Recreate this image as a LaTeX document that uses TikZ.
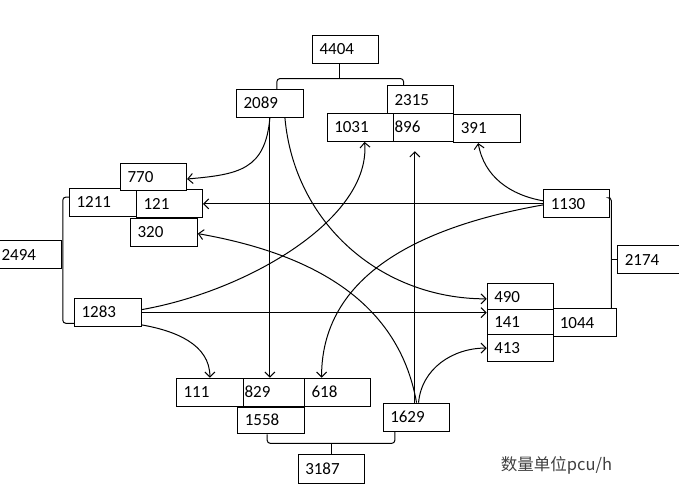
\documentclass[tikz,border=0pt]{standalone}
\usepackage{fontspec}
\usepackage{tikz}
\usetikzlibrary{
    arrows.meta,
    positioning,
    calc
}
\setmainfont{Carlito}
\newfontfamily\cjkfont{Noto Sans CJK SC}
\definecolor{noteGray}{RGB}{64,64,64}

\tikzset{
    cell/.style={
        draw,
        fill=white,
        line width=1.1pt,
        anchor=north west,
        inner xsep=7pt,
        inner ysep=0pt,
        text width=52pt,
        text height=10.7pt,
        text depth=0pt,
        minimum height=27.5pt,
        align=left,
        font=\fontsize{17}{20}\selectfont
    },
    flow/.style={
        ->,
        line width=1pt
    },
    bracket/.style={
        line width=1pt,
        rounded corners=3pt
    }
}

\begin{document}
\begin{tikzpicture}[
    x=1pt,
    y=1pt,
    >={Straight Barb[length=5pt,width=10pt]}
]

\useasboundingbox (0,0) rectangle (679,-499);

% =============================================================
% Boxes: top group
% =============================================================

\node[cell] (b4404) at (312,-35) {4404};
\node[cell, text width=52.7pt] (b2089) at (236,-89) {2089};
\node[cell, minimum height=28.3pt] (b2315) at (387,-85) {2315};
\node[cell] (b896) at (387,-113.3) {896};
\node[cell] (b1031) at (326.7,-113.3) {1031};
\node[
    cell,
    text width=52.7pt,
    minimum height=28pt
] (b391) at (453.3,-114) {391};

% =============================================================
% Boxes: left group
% =============================================================

\node[cell, text width=53pt] (b1211) at (69,-188.3) {1211};
\node[cell, minimum height=28pt] (b121) at (136,-189.3) {121};
\node[cell, text width=52.7pt] (b320) at (130,-218.3) {320};
\node[cell] (b770) at (120,-162.7) {770};
\node[
    cell,
    text width=52.7pt,
    minimum height=28.3pt
] (b2494) at (-6,-240) {2494};
\node[cell, text width=52.7pt] (b1283) at (74,-298.3) {1283};

% =============================================================
% Boxes: right group
% =============================================================

\node[cell, minimum height=28pt] (b1130) at (543.3,-189.3) {1130};
\node[cell, minimum height=28.3pt] (b2174) at (617.3,-245) {2174};
\node[
    cell,
    text width=52.6pt,
    minimum height=26pt
] (b490) at (486.7,-283.3) {490};
\node[
    cell,
    text width=52.6pt,
    minimum height=24.7pt
] (b141) at (486.7,-309.3) {141};
\node[
    cell,
    text width=52.6pt,
    minimum height=27pt
] (b413) at (486.7,-334) {413};
\node[
    cell,
    text width=51pt,
    inner xsep=6pt,
    minimum height=27.7pt
] (b1044) at (553.3,-308.3) {1044};

% =============================================================
% Boxes: bottom group
% =============================================================

\node[
    cell,
    text width=53pt,
    minimum height=28pt
] (b829) at (237,-377.7) {829};
\node[
    cell,
    text width=52.7pt,
    minimum height=28pt
] (b111) at (176,-377.7) {111};
\node[cell, minimum height=28pt] (b618) at (304,-377.7) {618};
\node[
    cell,
    text width=52.7pt,
    minimum height=26.6pt
] (b1558) at (237.3,-406.7) {1558};
\node[
    cell,
    text width=52.6pt,
    minimum height=28.3pt
] (b1629) at (382.7,-402.7) {1629};
\node[cell, minimum height=28.4pt] (b3187) at (297.7,-454.3) {3187};

% Unit note
\node[
    anchor=west,
    inner sep=0pt,
    text=noteGray,
    font=\cjkfont\fontsize{16.5}{20}\selectfont
] (unit) at (500.7,-465) {数量单位pcu/h};

% =============================================================
% Brackets joining the parts to their totals
% =============================================================

\draw[bracket]
    ([xshift=7pt]b2089.north)
    |- ([xshift=-6pt,yshift=-15pt]b4404.south)
    -| ([xshift=-17pt]b2315.north);
\draw[bracket]
    ([xshift=-6pt,yshift=-15pt]b4404.south) -- ([xshift=-6pt]b4404.south);

\draw[bracket]
    ([yshift=5.5pt]b1211.west)
    -| ([xshift=1pt]b2494.east)
    |- ([yshift=-10.7pt]b1283.west);

\draw[bracket]
    ([yshift=6pt]b1130.east)
    -| ([xshift=26pt]b1044.north);
\draw[bracket]
    ([xshift=-5.6pt]b2174.west) -- (b2174.west);

\draw[bracket]
    ([xshift=-4pt]b1558.south)
    |- ([yshift=11pt]b3187.north)
    -| ([xshift=-21.7pt]b1629.south);
\draw[bracket]
    ([yshift=11pt]b3187.north) -- (b3187.north);

% =============================================================
% Flows
% =============================================================

% from 2089
\draw[flow] (b2089.south)
    to[out=-95, in=5, looseness=1.3] ([yshift=-2pt]b770.east);
\draw[flow] (b2089.south) -- (b2089.south |- b829.north);
\draw[flow] ([xshift=15pt]b2089.south)
    to[out=-85, in=180] ([yshift=-2pt]b490.west);

% from 1130
\draw[flow] (b1130.west) -- (b121.east);
\draw[flow] ([yshift=3pt]b1130.west)
    to[out=170, in=-80] ([xshift=-9pt]b391.south);
\draw[flow] ([yshift=-1pt]b1130.west)
    to[out=190, in=90] ([xshift=-16pt]b618.north);

% from 1283
\draw[flow] ([yshift=3pt]b1283.east)
    to[out=10, in=-85, in looseness=0.7] ([xshift=4.3pt]b1031.south);
\draw[flow] (b1283.east) -- (b1283.east -| b141.west);
\draw[flow] ([yshift=2pt]b1283.south east)
    to[out=-10, in=90] (b111.north);

% from 1629
\draw[flow, shorten >=9.3pt] ([xshift=-1.7pt]b1629.north)
    -- ([xshift=-1.7pt]b1629.north |- b896.south);
\draw[flow] (b1629.north)
    to[out=100, in=-10] ([yshift=-1pt]b320.east);
\draw[flow] ([xshift=2pt]b1629.north)
    to[out=85, in=180] (b413.west);

\end{tikzpicture}
\end{document}
